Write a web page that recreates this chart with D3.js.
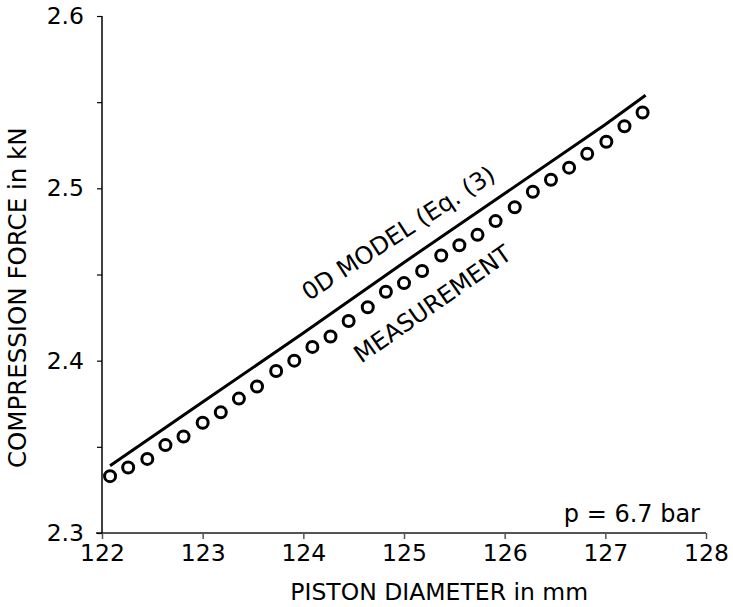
<!DOCTYPE html>
<html>
<head>
<meta charset="utf-8">
<script src="https://cdn.jsdelivr.net/npm/d3@7"></script>
<style>
  body { margin: 0; background: #fff; }
  text { font-family: "DejaVu Sans", Verdana, sans-serif; }
</style>
</head>
<body>
<svg width="733" height="607"></svg>
<script>
// piston diameter (mm) of the measured points
var diameter = [122.08, 122.26, 122.45, 122.63, 122.81, 123.00, 123.18, 123.36, 123.54, 123.73,
    123.91, 124.09, 124.27, 124.45, 124.64, 124.82, 125.00, 125.18, 125.37, 125.55,
    125.73, 125.91, 126.10, 126.28, 126.46, 126.64, 126.82, 127.01, 127.19, 127.37];
// measured compression force (kN)
var measured = [2.333, 2.338, 2.343, 2.351, 2.356, 2.364, 2.370, 2.378, 2.385, 2.394,
    2.400, 2.408, 2.414, 2.423, 2.431, 2.440, 2.445, 2.452, 2.461, 2.467,
    2.473, 2.481, 2.489, 2.498, 2.505, 2.512, 2.520, 2.527, 2.536, 2.544];
// 0D model (Eq. (3))
var modelD = [122.08, 123, 124, 125, 126, 127, 127.40];
var modelF = [2.339, 2.376, 2.416, 2.457, 2.497, 2.537, 2.554];

var xTicks = [122, 123, 124, 125, 126, 127, 128];
var yTicks = [2.3, 2.35, 2.4, 2.45, 2.5, 2.55, 2.6];

var margin = {left: 102, top: 16};
var width = 604, height = 517;

var svg = d3.select('svg').append('g')
    .attr('transform', 'translate(' + margin.left + ',' + margin.top + ')');

var scaleX = d3.scaleLinear().domain([122, 128]).range([0, width]);
var scaleY = d3.scaleLinear().domain([2.3, 2.6]).range([height, 0]);

// x axis (grey)
var xAxis = svg.append('g')
    .attr('transform', 'translate(0,' + height + ')')
    .call(d3.axisBottom(scaleX).tickValues(xTicks).tickFormat(d3.format('d'))
        .tickSize(6).tickPadding(5));
xAxis.select('.domain').remove();
xAxis.selectAll('line').attr('stroke', '#555').attr('stroke-width', 1.5);
xAxis.selectAll('text').attr('font-size', 23.5).attr('fill', '#000')
    .style('font-family', '"DejaVu Sans", Verdana, sans-serif');
xAxis.append('line')
    .attr('x1', -6).attr('x2', width)
    .attr('stroke', '#555').attr('stroke-width', 2);

// y axis (black)
var yAxis = svg.append('g')
    .call(d3.axisLeft(scaleY).tickValues(yTicks)
        .tickFormat(function (d) { return Math.round(d * 100) % 10 == 0 ? d3.format('.1f')(d) : ''; })
        .tickSize(5).tickPadding(13));
yAxis.select('.domain').remove();
yAxis.selectAll('line').attr('stroke', '#000').attr('stroke-width', 1.2);
yAxis.selectAll('text').attr('font-size', 23.5).attr('fill', '#000')
    .style('font-family', '"DejaVu Sans", Verdana, sans-serif');
yAxis.append('line')
    .attr('y1', 0).attr('y2', height)
    .attr('stroke', '#000').attr('stroke-width', 1.5);

// model line
var line = d3.line()
    .x(function (d) { return scaleX(d[0]); })
    .y(function (d) { return scaleY(d[1]); });

svg.append('path')
    .datum(d3.zip(modelD, modelF))
    .attr('d', line)
    .attr('fill', 'none')
    .attr('stroke', '#000')
    .attr('stroke-width', 3);

// measured points
svg.selectAll('.meas')
    .data(d3.zip(diameter, measured))
    .enter()
    .append('circle')
    .attr('class', 'meas')
    .attr('cx', function (d) { return scaleX(d[0]); })
    .attr('cy', function (d) { return scaleY(d[1]); })
    .attr('r', 5.5)
    .attr('fill', '#fff')
    .attr('stroke', '#000')
    .attr('stroke-width', 3);

// labels on the curves
svg.append('text')
    .text('0D MODEL (Eq. (3)')
    .attr('transform', 'translate(' + (scaleX(124.99)) + ',' + (scaleY(2.470)) + ')rotate(-33)')
    .attr('text-anchor', 'middle')
    .attr('font-size', 24);

svg.append('text')
    .text('MEASUREMENT')
    .attr('transform', 'translate(' + (scaleX(125.33)) + ',' + (scaleY(2.429)) + ')rotate(-35)')
    .attr('text-anchor', 'middle')
    .attr('font-size', 24);

svg.append('text')
    .text('p = 6.7 bar')
    .attr('x', width - 6)
    .attr('y', height - 11)
    .attr('text-anchor', 'end')
    .attr('font-size', 24);

// axis titles
svg.append('text')
    .text('PISTON DIAMETER in mm')
    .attr('x', scaleX(125.35))
    .attr('y', height + 67)
    .attr('text-anchor', 'middle')
    .attr('font-size', 23.5);

svg.append('text')
    .text('COMPRESSION FORCE in kN')
    .attr('transform', 'translate(' + (-76) + ',' + (scaleY(2.4365)) + ')rotate(-90)')
    .attr('text-anchor', 'middle')
    .attr('font-size', 24.5);
</script>
</body>
</html>
